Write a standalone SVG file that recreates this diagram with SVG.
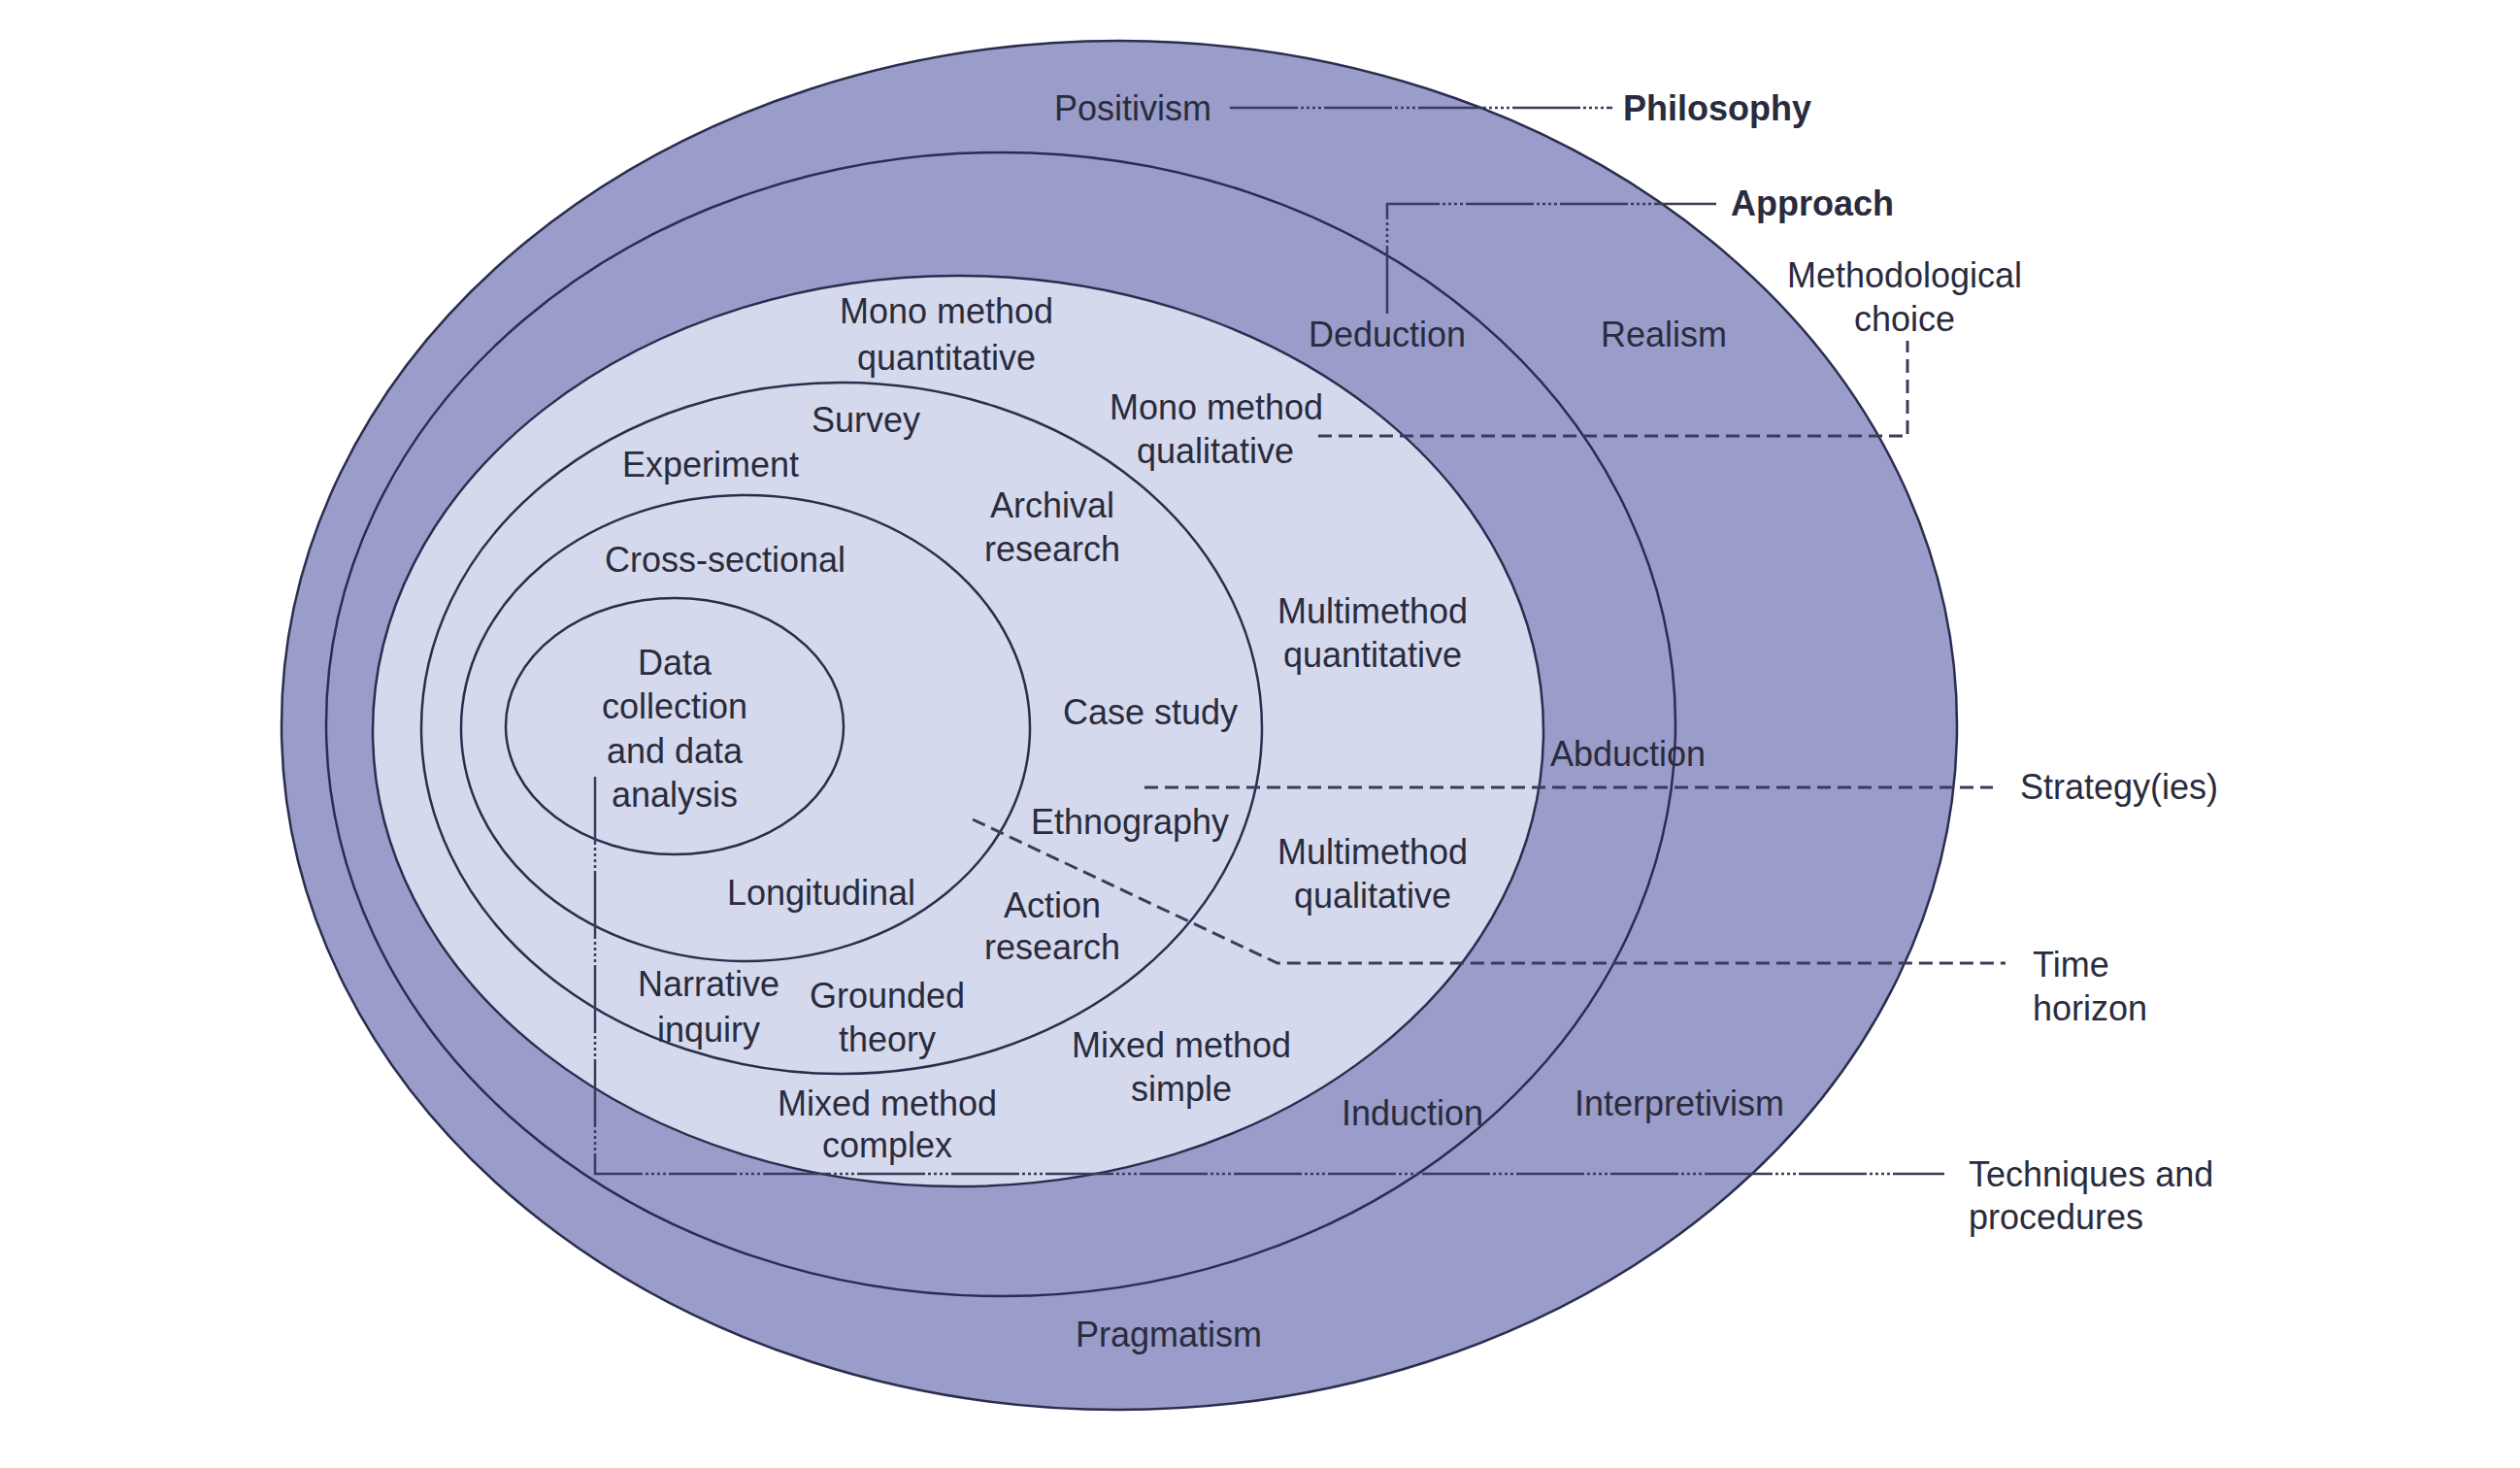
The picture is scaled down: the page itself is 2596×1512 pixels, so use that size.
<svg xmlns="http://www.w3.org/2000/svg" width="2596" height="1512" viewBox="0 0 2596 1512">
<style>
.band{fill:#9a9cca;stroke:#2b2d4f;stroke-width:2.5}
.core{fill:#d5d9ed;stroke:#2b2d4f;stroke-width:2.5}
.t{font-family:"Liberation Sans",Arial,sans-serif;font-size:36px;fill:#2a2b3c}
.b{font-weight:bold}
.m{text-anchor:middle}
.dash{fill:none;stroke:#3a3c5c;stroke-width:3;stroke-dasharray:14 7}
.dot{fill:none;stroke:#3a3c5c;stroke-width:2.5;stroke-dasharray:70 3 3 3 3 3 3 3 3 3}
</style>
<rect width="2596" height="1512" fill="#ffffff"/>
<g id="philosophy"><ellipse class="band" cx="1153" cy="747" rx="863" ry="705"/>
<text class="t m" x="1167" y="124">Positivism</text>
<text class="t m" x="1714" y="357">Realism</text>
<text class="t m" x="1730" y="1149">Interpretivism</text>
<text class="t m" x="1204" y="1387">Pragmatism</text>
</g>
<g id="approach"><ellipse class="band" cx="1031" cy="746" rx="695" ry="589"/>
<text class="t m" x="1429" y="357">Deduction</text>
<text class="t m" x="1677" y="789">Abduction</text>
<text class="t m" x="1455" y="1159">Induction</text>
</g>
<g id="choice"><ellipse class="core" cx="987" cy="753" rx="603" ry="469"/>
<text class="t m" x="975" y="333">Mono method</text>
<text class="t m" x="975" y="381">quantitative</text>
<text class="t m" x="1253" y="432">Mono method</text>
<text class="t m" x="1252" y="477">qualitative</text>
<text class="t m" x="1414" y="642">Multimethod</text>
<text class="t m" x="1414" y="687">quantitative</text>
<text class="t m" x="1414" y="890">Multimethod</text>
<text class="t m" x="1414" y="935">qualitative</text>
<text class="t m" x="1217" y="1089">Mixed method</text>
<text class="t m" x="1217" y="1134">simple</text>
<text class="t m" x="914" y="1149">Mixed method</text>
<text class="t m" x="914" y="1192">complex</text>
</g>
<g id="strategies"><ellipse class="core" cx="867" cy="750" rx="433" ry="356"/>
<text class="t m" x="892" y="445">Survey</text>
<text class="t m" x="732" y="491">Experiment</text>
<text class="t m" x="1084" y="533">Archival</text>
<text class="t m" x="1084" y="578">research</text>
<text class="t m" x="1185" y="746">Case study</text>
<text class="t m" x="1164" y="859">Ethnography</text>
<text class="t m" x="1084" y="945">Action</text>
<text class="t m" x="1084" y="988">research</text>
<text class="t m" x="730" y="1026">Narrative</text>
<text class="t m" x="730" y="1073">inquiry</text>
<text class="t m" x="914" y="1038">Grounded</text>
<text class="t m" x="914" y="1083">theory</text>
</g>
<g id="time-horizon"><ellipse class="core" cx="768" cy="750" rx="293" ry="240"/>
<text class="t m" x="747" y="589">Cross-sectional</text>
<text class="t m" x="846" y="932">Longitudinal</text>
</g>
<g id="techniques"><ellipse class="core" cx="695" cy="748" rx="174" ry="132"/>
<text class="t m" x="695" y="695">Data</text>
<text class="t m" x="695" y="740">collection</text>
<text class="t m" x="695" y="786">and data</text>
<text class="t m" x="695" y="831">analysis</text>
</g>
<g id="connectors">
<polyline class="dot" points="1267,111 1661,111"/>
<polyline class="dot" points="1429,323 1429,210 1768,210"/>
<polyline class="dash" points="1358,449 1965,449 1965,351"/>
<polyline class="dash" points="1179,811 2053,811"/>
<polyline class="dash" points="1002,844 1316,992 2066,992"/>
<polyline class="dot" points="613,800 613,1209 2003,1209"/>
</g>
<g id="labels">
<text class="t b" x="1672" y="124">Philosophy</text>
<text class="t b" x="1783" y="222">Approach</text>
<text class="t m" x="1962" y="296">Methodological</text>
<text class="t m" x="1962" y="341">choice</text>
<text class="t" x="2081" y="823">Strategy(ies)</text>
<text class="t" x="2094" y="1006">Time</text>
<text class="t" x="2094" y="1051">horizon</text>
<text class="t" x="2028" y="1222">Techniques and</text>
<text class="t" x="2028" y="1266">procedures</text>
</g>
</svg>
